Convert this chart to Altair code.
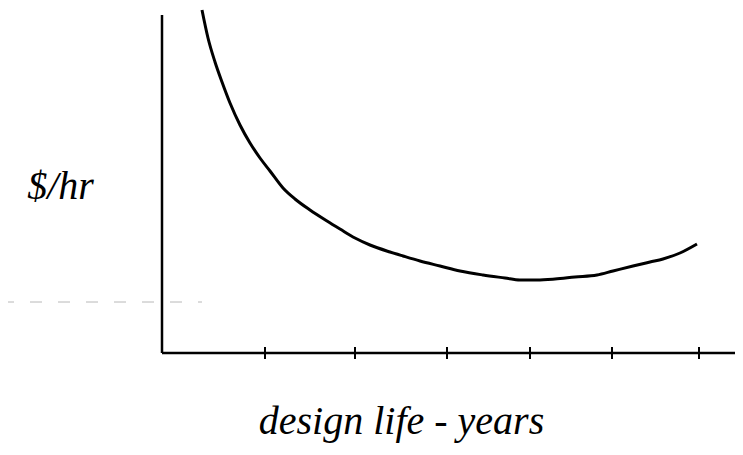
import altair as alt
import pandas as pd

# Curve (x = px from y-axis, y = px above x-axis)
curve_x = [40, 46, 53, 60, 68, 78, 88, 98, 108, 121, 133, 148, 165, 178, 193, 208, 228,
           241, 258, 278, 298, 321, 343, 358, 375, 393, 413, 435, 451, 471, 488, 501, 518, 535]
curve_y = [343, 315, 291, 271, 250, 228, 210, 195, 182, 165, 154, 143, 132, 124, 115, 108, 101,
           97, 92, 87, 82, 78, 75, 73, 73, 74, 76, 78, 82, 87, 91, 94, 100, 109]

tick_x = [103, 193, 285, 368, 450, 537]
x_axis_end = 575
y_axis_top = 338

x_title = "design life - years"
y_title = "$/hr"

df_curve = pd.DataFrame({"x": curve_x, "y": curve_y})
df_ticks = pd.DataFrame({"x": tick_x})

xs = alt.Scale(domain=[0, 573], nice=False, zero=False)
ys = alt.Scale(domain=[0, 345], nice=False, zero=False)

font = "Liberation Serif"

curve = alt.Chart(df_curve).mark_line(
    color="black", strokeWidth=3, interpolate="monotone"
).encode(
    x=alt.X("x:Q", scale=xs, axis=alt.Axis(
        title=x_title, domain=False, ticks=False, labels=False, grid=False,
        titleFont=font, titleFontStyle="italic", titleFontWeight="normal",
        titleFontSize=40, titleColor="black",
        titleX=239, titleY=80, titleAnchor="middle", titleAlign="center",
        titleBaseline="alphabetic")),
    y=alt.Y("y:Q", scale=ys, axis=alt.Axis(
        title=y_title, domain=False, ticks=False, labels=False, grid=False,
        titleFont=font, titleFontStyle="italic", titleFontWeight="normal",
        titleFontSize=40, titleColor="black", titleAngle=0,
        titleX=-102, titleY=190, titleAlign="center",
        titleBaseline="alphabetic")),
)

yaxis = alt.Chart(pd.DataFrame({"x": [0], "y": [0], "y2": [y_axis_top]})).mark_rule(
    color="black", strokeWidth=2.5
).encode(x=alt.X("x:Q", scale=xs), y=alt.Y("y:Q", scale=ys), y2="y2:Q")

xaxis = alt.Chart(pd.DataFrame({"x": [0], "x2": [x_axis_end], "y": [0]})).mark_rule(
    color="black", strokeWidth=2.5
).encode(x=alt.X("x:Q", scale=xs), x2="x2:Q", y=alt.Y("y:Q", scale=ys))

ticks = alt.Chart(df_ticks).mark_rule(color="black", strokeWidth=2).encode(
    x=alt.X("x:Q", scale=xs),
    y=alt.value(339), y2=alt.value(351),
)

noise = alt.Chart(pd.DataFrame({"x": [-160], "x2": [40], "y": [51]})).mark_rule(
    color="#888", strokeWidth=1, strokeDash=[12, 16], opacity=0.6
).encode(x=alt.X("x:Q", scale=xs), x2="x2:Q", y=alt.Y("y:Q", scale=ys))

chart = alt.layer(noise, curve, yaxis, xaxis, ticks).properties(
    width=573, height=345,
    autosize=alt.AutoSizeParams(type="none"),
    padding={"left": 154, "top": 0, "right": 0, "bottom": 90},
    background="white",
).configure_view(stroke=None)

chart.save("out.html", embed_options={"renderer": "svg", "actions": False})
